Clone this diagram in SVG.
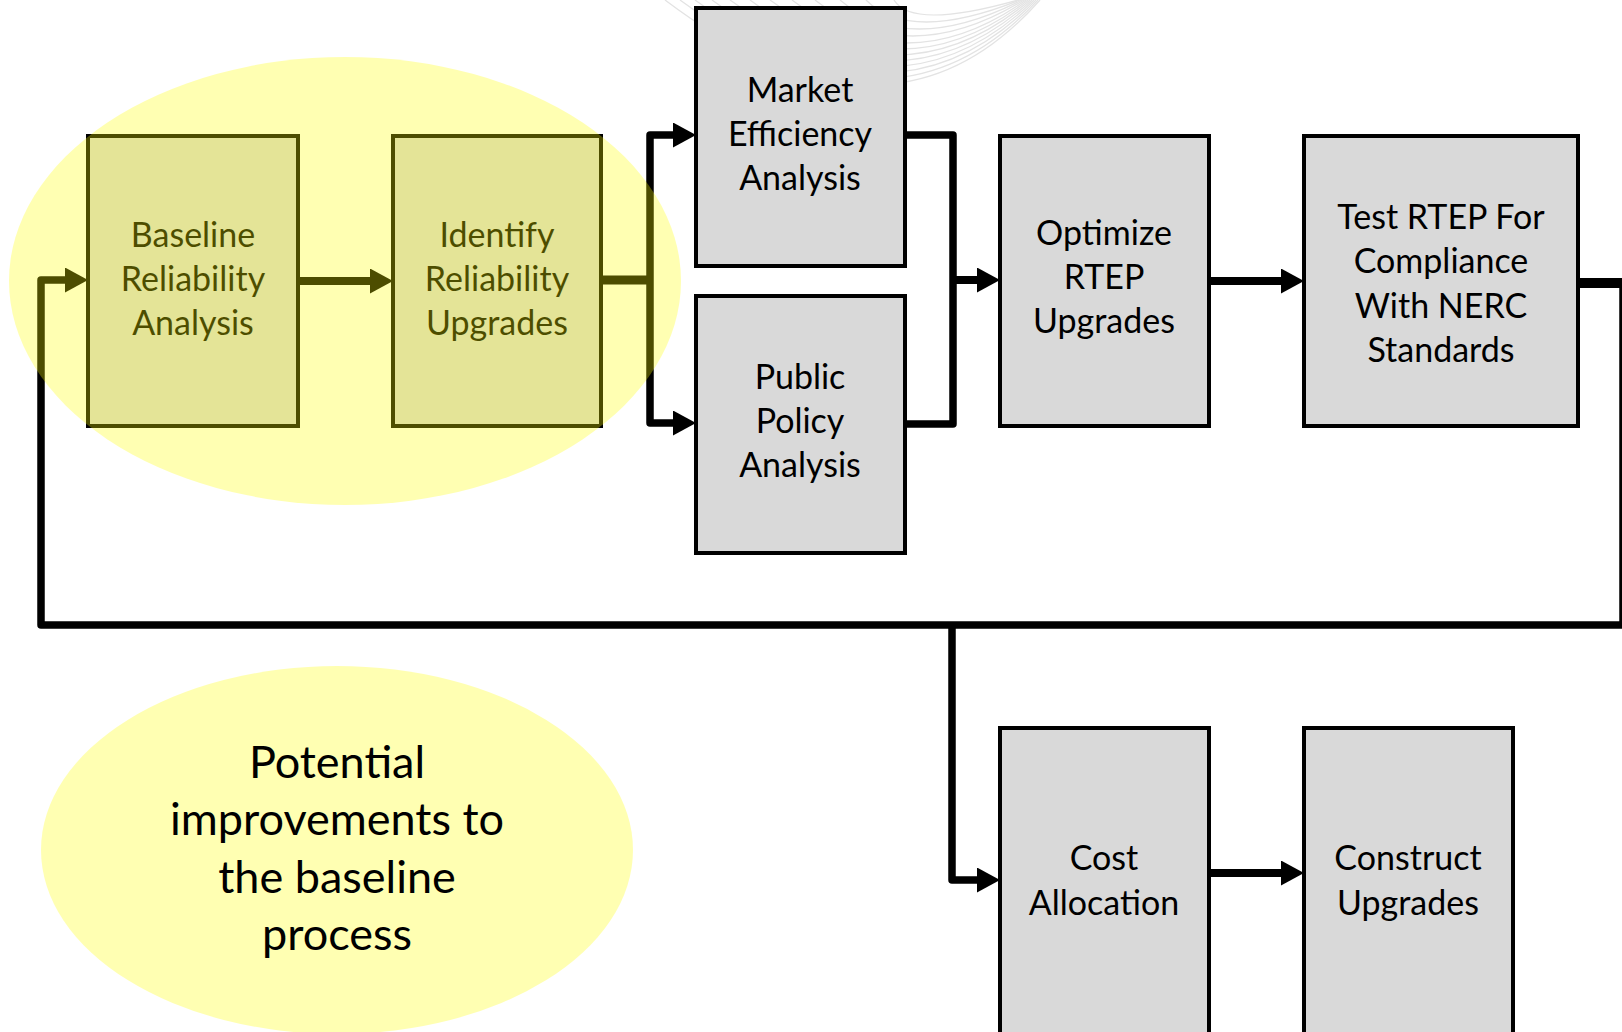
<svg xmlns="http://www.w3.org/2000/svg" width="1622" height="1032" viewBox="0 0 1622 1032">
<style>
  .box { fill: #d9d9d9; stroke: #000; stroke-width: 4; }
  .lbl { font-family: Lato, "Liberation Sans", sans-serif; font-size: 34px; fill: #000; text-anchor: middle; }
  .big { font-family: Lato, "Liberation Sans", sans-serif; font-size: 45px; fill: #000; text-anchor: middle; }
  .wire { fill: none; stroke: #000; stroke-width: 8; stroke-linejoin: round; }
  .wm { fill: none; stroke: #e3e3e3; stroke-width: 1.3; }
  .hl { fill: #ffff00; fill-opacity: 0.3; }
</style>
<defs>
  <marker id="ah" markerUnits="userSpaceOnUse" markerWidth="24" markerHeight="26" refX="3" refY="12.5" orient="auto">
    <path d="M0,0 L23,12.5 L0,25 Z" fill="#000"/>
  </marker>
</defs>
<rect width="1622" height="1032" fill="#fff"/>
<g id="watermark">
  <path class="wm" d="M665,0 Q890,170 1040,0"/>
  <path class="wm" d="M680,0 Q892,158 1038,0"/>
  <path class="wm" d="M695,0 Q894,146 1036,0"/>
  <path class="wm" d="M712,0 Q896,134 1034,0"/>
  <path class="wm" d="M730,0 Q898,122 1032,0"/>
  <path class="wm" d="M750,0 Q900,110 1030,0"/>
  <path class="wm" d="M770,0 Q902,98 1028,0"/>
  <path class="wm" d="M792,0 Q904,86 1026,0"/>
  <path class="wm" d="M815,0 Q906,72 1024,0"/>
  <path class="wm" d="M840,0 Q908,58 1022,0"/>
  <path class="wm" d="M866,0 Q910,44 1020,0"/>
  <path class="wm" d="M894,0 Q912,30 1018,0"/>
</g>
<g id="connectors">
  <path class="wire" d="M298,281 H373" marker-end="url(#ah)"/>
  <path class="wire" d="M601,280 H650" style="stroke-width:9"/>
  <path class="wire" d="M650,280 V135 H676" marker-end="url(#ah)" style="stroke-width:7.5"/>
  <path class="wire" d="M650,280 V423 H676" marker-end="url(#ah)" style="stroke-width:7.5"/>
  <path class="wire" d="M905,135 H953 V424 H905" style="stroke-width:7.5"/>
  <path class="wire" d="M953,280 H980" marker-end="url(#ah)"/>
  <path class="wire" d="M1209,281 H1284" marker-end="url(#ah)"/>
  <path class="wire" d="M1578,283 H1623" style="stroke-width:10"/>
  <path class="wire" d="M1623,283 V625 H41 V280 H68" marker-end="url(#ah)" style="stroke-width:7.5"/>
  <path class="wire" d="M952,625 V880 H980" marker-end="url(#ah)" style="stroke-width:7.5"/>
  <path class="wire" d="M1209,873 H1284" marker-end="url(#ah)"/>
</g>
<g id="baseline">
  <rect class="box" x="88" y="136" width="210" height="290"/>
  <text class="lbl" x="193" y="247">Baseline</text>
  <text class="lbl" x="193" y="291">Reliability</text>
  <text class="lbl" x="193" y="335">Analysis</text>
</g>
<g id="identify">
  <rect class="box" x="393" y="136" width="208" height="290"/>
  <text class="lbl" x="497" y="247">Identify</text>
  <text class="lbl" x="497" y="291">Reliability</text>
  <text class="lbl" x="497" y="335">Upgrades</text>
</g>
<g id="market">
  <rect class="box" x="696" y="8" width="209" height="258"/>
  <text class="lbl" x="800" y="102">Market</text>
  <text class="lbl" x="800" y="146">Efficiency</text>
  <text class="lbl" x="800" y="190">Analysis</text>
</g>
<g id="public">
  <rect class="box" x="696" y="296" width="209" height="257"/>
  <text class="lbl" x="800" y="389">Public</text>
  <text class="lbl" x="800" y="433">Policy</text>
  <text class="lbl" x="800" y="477">Analysis</text>
</g>
<g id="optimize">
  <rect class="box" x="1000" y="136" width="209" height="290"/>
  <text class="lbl" x="1104" y="245">Optimize</text>
  <text class="lbl" x="1104" y="289">RTEP</text>
  <text class="lbl" x="1104" y="333">Upgrades</text>
</g>
<g id="test">
  <rect class="box" x="1304" y="136" width="274" height="290"/>
  <text class="lbl" x="1441" y="229">Test RTEP For</text>
  <text class="lbl" x="1441" y="273">Compliance</text>
  <text class="lbl" x="1441" y="318">With NERC</text>
  <text class="lbl" x="1441" y="362">Standards</text>
</g>
<g id="cost">
  <rect class="box" x="1000" y="728" width="209" height="320"/>
  <text class="lbl" x="1104" y="870">Cost</text>
  <text class="lbl" x="1104" y="915">Allocation</text>
</g>
<g id="construct">
  <rect class="box" x="1304" y="728" width="209" height="320"/>
  <text class="lbl" x="1408" y="870">Construct</text>
  <text class="lbl" x="1408" y="915">Upgrades</text>
</g>
<g id="highlight">
  <ellipse class="hl" cx="345" cy="281" rx="336" ry="224"/>
</g>
<g id="note">
  <ellipse class="hl" cx="337" cy="850" rx="296" ry="184"/>
  <text class="big" x="337" y="778">Potential</text>
  <text class="big" x="337" y="835">improvements to</text>
  <text class="big" x="337" y="893">the baseline</text>
  <text class="big" x="337" y="950">process</text>
</g>
</svg>
